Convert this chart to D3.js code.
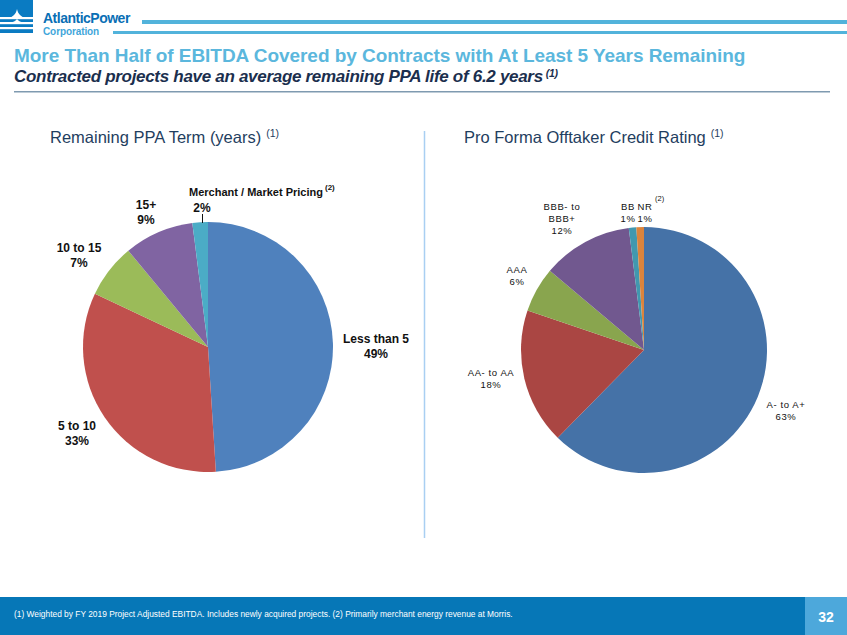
<!DOCTYPE html>
<html><head><meta charset="utf-8">
<script src="https://cdn.jsdelivr.net/npm/d3@7"></script>
<style>
html,body{margin:0;padding:0;background:#fff;}
svg{display:block;font-family:Arial,"Liberation Sans",sans-serif;}
</style></head>
<body>
<svg id="c" width="847" height="635"></svg>
<script>
// ---- data ----
const termCategories = ["Less than 5", "5 to 10", "10 to 15", "15+", "Merchant / Market Pricing"];
const termValues = [49, 33, 7, 9, 2];
const termColors = ["#4F81BD", "#C0504D", "#9BBB59", "#8064A2", "#4BACC6"];

const ratingCategories = ["A- to A+", "AA- to AA", "AAA", "BBB- to BBB+", "BB", "NR"];
const ratingValues = [63, 18, 6, 12, 1, 1];
const ratingColors = ["#4572A7", "#AA4643", "#89A54E", "#71588F", "#4198AF", "#DB843D"];

const title = "More Than Half of EBITDA Covered by Contracts with At Least 5 Years Remaining";
const subtitle = "Contracted projects have an average remaining PPA life of 6.2 years";
const footnote = "(1)  Weighted by FY 2019 Project Adjusted EBITDA. Includes newly acquired projects.  (2) Primarily merchant energy revenue at Morris.";

const svg = d3.select("#c");

// ---- logo ----
const logo = svg.append("g");
logo.append("rect").attr("x",0).attr("y",0).attr("width",33).attr("height",33).attr("fill","#0A7BC2");
[17,22,27].forEach(y=>{
  logo.append("rect").attr("x",0).attr("y",y).attr("width",33).attr("height",2.2).attr("fill","#fff");
});
logo.append("path").attr("d","M17,9 C18,14 21,17 26,18 L8,18 C13,17 16,14 17,9Z").attr("fill","#fff");
logo.append("path").attr("d","M17,19 C18,21 21,22 25,23 L9,23 C13,22 16,21 17,19Z").attr("fill","#fff");
logo.append("text").attr("x",43).attr("y",23).attr("font-size",14).attr("font-weight","bold")
  .attr("fill","#0A6FB5").attr("letter-spacing",-0.5).text("AtlanticPower");
logo.append("text").attr("x",43).attr("y",35).attr("font-size",10).attr("font-weight","bold")
  .attr("fill","#3FA6DA").attr("letter-spacing",-0.1).text("Corporation");
logo.append("rect").attr("x",142).attr("y",20).attr("width",705).attr("height",4).attr("fill","#52B3DB");
logo.append("rect").attr("x",113).attr("y",31).attr("width",734).attr("height",3).attr("fill","#52B3DB");

// ---- titles ----
svg.append("text").attr("x",14).attr("y",62).attr("font-size",19).attr("font-weight","bold")
  .attr("fill","#5BB7DD").attr("letter-spacing",-0.05).text(title);
const st = svg.append("text").attr("x",14).attr("y",82).attr("font-size",17).attr("font-weight","bold")
  .attr("font-style","italic").attr("fill","#1B2F4E").attr("letter-spacing",-0.3);
st.append("tspan").text(subtitle);
st.append("tspan").attr("dy",-5).attr("dx",3).attr("font-size",10.5).text("(1)");
svg.append("rect").attr("x",14).attr("y",91).attr("width",816).attr("height",1.5).attr("fill","#7F9AB0");

function sectionTitle(x, txt){
  const t = svg.append("text").attr("x",x).attr("y",143).attr("font-size",16.5).attr("fill","#1F3E60");
  t.append("tspan").text(txt);
  t.append("tspan").attr("dy",-6).attr("dx",5).attr("font-size",10.5).text("(1)");
}
sectionTitle(50, "Remaining PPA Term (years)");
sectionTitle(464, "Pro Forma Offtaker Credit Rating");

svg.append("line").attr("x1",424.5).attr("x2",424.5).attr("y1",131).attr("y2",538)
  .attr("stroke","#A9CFF2").attr("stroke-width",1.5);

// ---- pies ----
function drawPie(cx, cy, r, values, colors){
  const pie = d3.pie().sort(null).value(d=>d)(values);
  const arc = d3.arc().innerRadius(0).outerRadius(r);
  const g = svg.append("g").attr("transform",`translate(${cx},${cy})`);
  g.selectAll("path").data(pie).join("path").attr("d",arc).attr("fill",(d,i)=>colors[i]);
  return pie;
}
drawPie(208, 347, 125, termValues, termColors);
drawPie(644, 350, 123, ratingValues, ratingColors);

// ---- labels left ----
function label(x, y, lines, opts={}){
  const t = svg.append("text").attr("x",x).attr("y",y).attr("text-anchor",opts.anchor||"middle")
    .attr("font-size",opts.size||12).attr("font-weight",opts.weight||"bold").attr("fill","#111")
    .attr("letter-spacing",opts.ls||0);
  lines.forEach((l,i)=>{
    t.append("tspan").attr("x",x).attr("dy",i===0?0:(opts.lh||15)).text(l);
  });
  return t;
}
const pct = v => v + "%";
label(376, 343, [termCategories[0], pct(termValues[0])], {size:12});
label(77, 430, [termCategories[1], pct(termValues[1])], {size:12});
label(79, 252, [termCategories[2], pct(termValues[2])], {size:12});
label(146, 209, [termCategories[3], pct(termValues[3])], {size:12});
label(256, 196, [termCategories[4]], {size:11});
svg.append("text").attr("x",325).attr("y",190).attr("font-size",8).attr("font-weight","bold").attr("fill","#111").text("(2)");
label(202, 212, [pct(termValues[4])], {size:12});
svg.append("line").attr("x1",202.5).attr("x2",202.5).attr("y1",214).attr("y2",223).attr("stroke","#111").attr("stroke-width",1);

// ---- labels right ----
const rs = {size:9.5, weight:"normal", ls:0.6, lh:12};
label(786, 408, [ratingCategories[0], pct(ratingValues[0])], rs);
label(491, 376, [ratingCategories[1], pct(ratingValues[1])], rs);
label(517, 273, [ratingCategories[2], pct(ratingValues[2])], rs);
label(562, 210, ["BBB- to", "BBB+", pct(ratingValues[3])], rs);
label(628, 210, [ratingCategories[4], pct(ratingValues[4])], rs);
label(645, 210, [ratingCategories[5], pct(ratingValues[5])], rs);
svg.append("text").attr("x",655).attr("y",201).attr("font-size",7.5).attr("fill","#111").text("(2)");

// ---- footer ----
svg.append("rect").attr("x",0).attr("y",597).attr("width",847).attr("height",38).attr("fill","#0677B7");
svg.append("rect").attr("x",805).attr("y",597).attr("width",42).attr("height",38).attr("fill","#4DA8DB");
svg.append("text").attr("x",14).attr("y",617).attr("font-size",8.4).attr("fill","#fff").text(footnote);
svg.append("text").attr("x",826).attr("y",622).attr("text-anchor","middle").attr("font-size",14)
  .attr("font-weight","bold").attr("fill","#fff").text("32");
</script>
</body></html>
